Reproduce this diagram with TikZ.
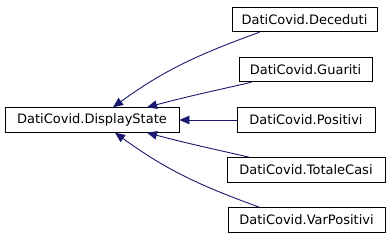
\documentclass[tikz,border=0pt]{standalone}
\usepackage{fontspec}
\setmainfont{DejaVu Sans}
\usetikzlibrary{arrows.meta}
\definecolor{edgeblue}{HTML}{191970}
\tikzset{
  cls/.style={draw=black, line width=0.9pt, fill=white, inner sep=0pt,
    minimum height=24.5pt, font=\fontsize{13}{15}\selectfont},
  inherit/.style={draw=edgeblue, line width=0.9pt,
    -{Triangle[length=10pt,width=8.5pt,fill=edgeblue]}},
}
\begin{document}
\begin{tikzpicture}[x=1pt,y=1pt]
  \useasboundingbox (0,0) rectangle (392,240);
  % base class
  \node[cls, minimum width=174pt] (base) at (92,120) {DatiCovid.DisplayState};
  % derived classes
  \node[cls, minimum width=145pt] (dec) at (304.5,220.5) {DatiCovid.Deceduti};
  \node[cls, minimum width=133pt] (gua) at (305.5,170.5) {DatiCovid.Guariti};
  \node[cls, minimum width=138pt] (pos) at (306,120) {DatiCovid.Positivi};
  \node[cls, minimum width=158pt] (tot) at (306,70) {DatiCovid.TotaleCasi};
  \node[cls, minimum width=157pt] (var) at (306.5,20) {DatiCovid.VarPositivi};
  % inheritance edges
  \draw[inherit] ([xshift=28pt]dec.south west) to[out=200,in=36] ([xshift=21pt]base.north);
  \draw[inherit] ([xshift=13pt]gua.south west) to[out=193,in=15] ([xshift=55pt]base.north);
  \draw[inherit] (pos.west) -- (base.east);
  \draw[inherit] ([xshift=23pt]tot.north west) to[out=167,in=-15] ([xshift=55pt]base.south);
  \draw[inherit] ([xshift=32pt]var.north west) to[out=160,in=-36] ([xshift=23pt]base.south);
\end{tikzpicture}
\end{document}
